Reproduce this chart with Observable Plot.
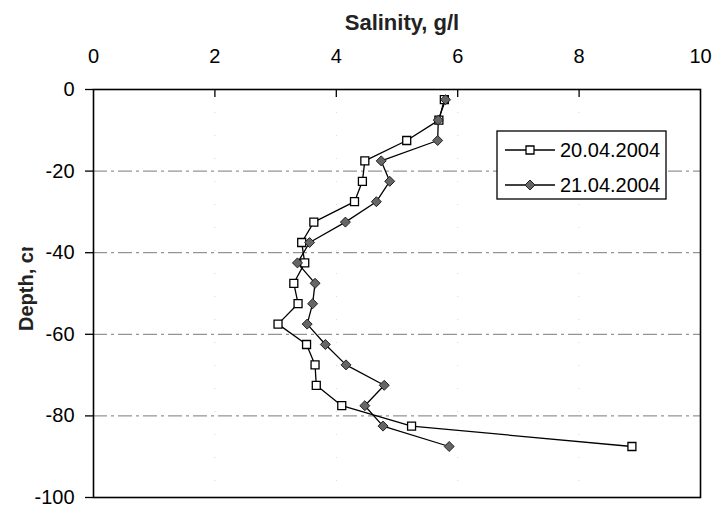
<!DOCTYPE html>
<html>
<head>
<meta charset="utf-8">
<script src="https://cdn.jsdelivr.net/npm/d3@7"></script>
<script src="https://cdn.jsdelivr.net/npm/@observablehq/plot@0.6"></script>
<style>
  html, body { margin: 0; padding: 0; background: white; }
</style>
</head>
<body>
<div id="chart"></div>
<script>
// Depth (cm) of each measurement
const depth = [-2.5, -7.5, -12.5, -17.5, -22.5, -27.5, -32.5, -37.5, -42.5, -47.5, -52.5, -57.5, -62.5, -67.5, -72.5, -77.5, -82.5, -87.5];
// Salinity (g/l) series
const salinity20 = [5.78, 5.69, 5.16, 4.47, 4.43, 4.30, 3.63, 3.43, 3.48, 3.30, 3.37, 3.04, 3.51, 3.65, 3.67, 4.09, 5.24, 8.87];
const salinity21 = [5.80, 5.68, 5.67, 4.74, 4.88, 4.66, 4.15, 3.56, 3.36, 3.65, 3.61, 3.52, 3.82, 4.16, 4.79, 4.47, 4.77, 5.86];
const seriesNames = ["20.04.2004", "21.04.2004"];
const xTicks = [0, 2, 4, 6, 8, 10];
const yTicks = [0, -20, -40, -60, -80, -100];
const gridY = [-20, -40, -60, -80];
const gridX = [2, 4, 6, 8];

const rows20 = depth.map((d, i) => ({depth: d, salinity: salinity20[i]}));
const rows21 = depth.map((d, i) => ({depth: d, salinity: salinity21[i]}));

const FONT = "Liberation Sans, Arial, Helvetica, sans-serif";

const chart = Plot.plot({
  width: 716,
  height: 507,
  marginLeft: 93,
  marginRight: 16,
  marginTop: 89,
  marginBottom: 10,
  style: {fontFamily: FONT, fontSize: "20px", color: "black", background: "white", overflow: "visible"},
  x: {domain: [0, 10]},
  y: {domain: [-100, 0]},
  marks: [
    Plot.ruleX(gridX, {stroke: "#d6d6d6", strokeDasharray: "1,22", strokeWidth: 1}),
    Plot.ruleY(gridY, {stroke: "#7a7a7a", strokeDasharray: "14,4,3,4", strokeWidth: 1}),
    Plot.tickX(gridX, {x: d => d, stroke: "black", strokeWidth: 1.3, insetBottom: 400}),
    Plot.axisX({anchor: "top", ticks: xTicks, tickSize: 0, tickPadding: 27, fontSize: 20, tickFormat: d => String(d), label: null}),
    Plot.axisY({anchor: "left", ticks: yTicks, tickSize: 8, tickPadding: 11, fontSize: 20, tickFormat: d => String(d), label: null, strokeWidth: 1.3}),
    Plot.frame({stroke: "black", strokeWidth: 1.6}),
    Plot.line(rows20, {x: "salinity", y: "depth", stroke: "black", strokeWidth: 1.3}),
    Plot.dot(rows20, {x: "salinity", y: "depth", symbol: "square", r: 4.5, fill: "white", stroke: "black", strokeWidth: 1.3}),
    Plot.line(rows21, {x: "salinity", y: "depth", stroke: "black", strokeWidth: 1.3}),
    Plot.dot(rows21, {x: "salinity", y: "depth", symbol: "diamond2", r: 4.5, fill: "#666", stroke: "#222", strokeWidth: 1})
  ]
});

const svg = d3.select(chart);

// Top axis title
svg.append("text")
  .attr("x", 402).attr("y", 30)
  .attr("text-anchor", "middle")
  .attr("font-family", FONT).attr("font-size", 22).attr("font-weight", "bold")
  .attr("fill", "#222")
  .text("Salinity, g/l");

// Y axis title (clipped as in the reference)
const defs = svg.append("defs");
defs.append("clipPath").attr("id", "ylabclip")
  .append("rect").attr("x", 0).attr("y", 247).attr("width", 93).attr("height", 260);
svg.append("g").attr("clip-path", "url(#ylabclip)")
  .append("text")
  .attr("transform", "translate(33,331) rotate(-90)")
  .attr("text-anchor", "start")
  .attr("font-family", FONT).attr("font-size", 20).attr("font-weight", "bold")
  .attr("fill", "#222")
  .text("Depth, cm");

// Legend
const lg = svg.append("g");
lg.append("rect").attr("x", 497).attr("y", 131).attr("width", 169).attr("height", 68)
  .attr("fill", "white").attr("stroke", "black").attr("stroke-width", 1.3);
const sz = Math.PI * 4.5 * 4.5;
const legendRows = [
  {name: seriesNames[0], y: 150, sym: d3.symbolSquare, fill: "white", stroke: "black", sw: 1.3},
  {name: seriesNames[1], y: 185, sym: d3.symbolDiamond2, fill: "#666", stroke: "#222", sw: 1}
];
for (const r of legendRows) {
  lg.append("line").attr("x1", 505).attr("x2", 555).attr("y1", r.y).attr("y2", r.y)
    .attr("stroke", "black").attr("stroke-width", 1.3);
  lg.append("path").attr("transform", `translate(530,${r.y})`)
    .attr("d", d3.symbol(r.sym, sz)())
    .attr("fill", r.fill).attr("stroke", r.stroke).attr("stroke-width", r.sw);
  lg.append("text").attr("x", 560).attr("y", r.y + 7)
    .attr("text-anchor", "start")
    .attr("font-family", FONT).attr("font-size", 20).attr("fill", "black")
    .text(r.name);
}

document.getElementById("chart").appendChild(chart);
</script>
</body>
</html>
